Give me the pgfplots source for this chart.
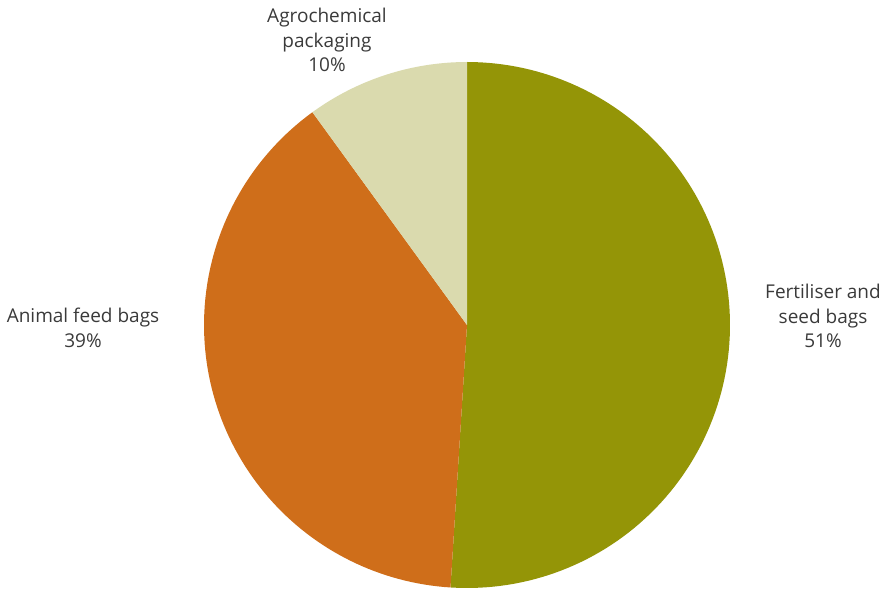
\documentclass[border=0pt]{standalone}
\usepackage{pgfplots}
\pgfplotsset{compat=1.18}
\usepackage{fontspec}
\setmainfont{Open Sans}
\definecolor{cFert}{HTML}{949507}
\definecolor{cFeed}{HTML}{CF6E1A}
\definecolor{cAgro}{HTML}{DADAAE}
\definecolor{cText}{HTML}{3A3A3A}
% shares (percent)
\def\sFert{51}
\def\sFeed{39}
\def\sAgro{10}
\begin{document}
\begin{tikzpicture}
\pgfmathsetmacro{\aA}{90}
\pgfmathsetmacro{\aB}{90-3.6*\sFert}
\pgfmathsetmacro{\aC}{\aB-3.6*\sFeed}
\pgfmathsetmacro{\aD}{\aC-3.6*\sAgro}
\begin{axis}[
  width=441pt, height=294.5pt, scale only axis,
  xmin=0, xmax=882, ymin=0, ymax=589,
  hide axis, clip=false,
]
\path (axis cs:0,0) (axis cs:882,589);
\addplot[fill=cFert, draw=none, domain=\aA:\aB, samples=120]
  ({467+263*cos(x)},{264+263*sin(x)}) -- (axis cs:467,264) -- cycle;
\addplot[fill=cFeed, draw=none, domain=\aB:\aC, samples=100]
  ({467+263*cos(x)},{264+263*sin(x)}) -- (axis cs:467,264) -- cycle;
\addplot[fill=cAgro, draw=none, domain=\aC:\aD, samples=40]
  ({467+263*cos(x)},{264+263*sin(x)}) -- (axis cs:467,264) -- cycle;
\tikzset{lbl/.style={align=center, inner sep=0pt, text=cText, font=\fontsize{9.5}{12.3}\selectfont}}
\node[lbl] at (axis cs:327,549) {Agrochemical\\packaging\\\sAgro\%};
\node[lbl] at (axis cs:823,273) {Fertiliser and\\seed bags\\\sFert\%};
\node[lbl] at (axis cs:83,261) {Animal feed bags\\\sFeed\%};
\end{axis}
\end{tikzpicture}
\end{document}
